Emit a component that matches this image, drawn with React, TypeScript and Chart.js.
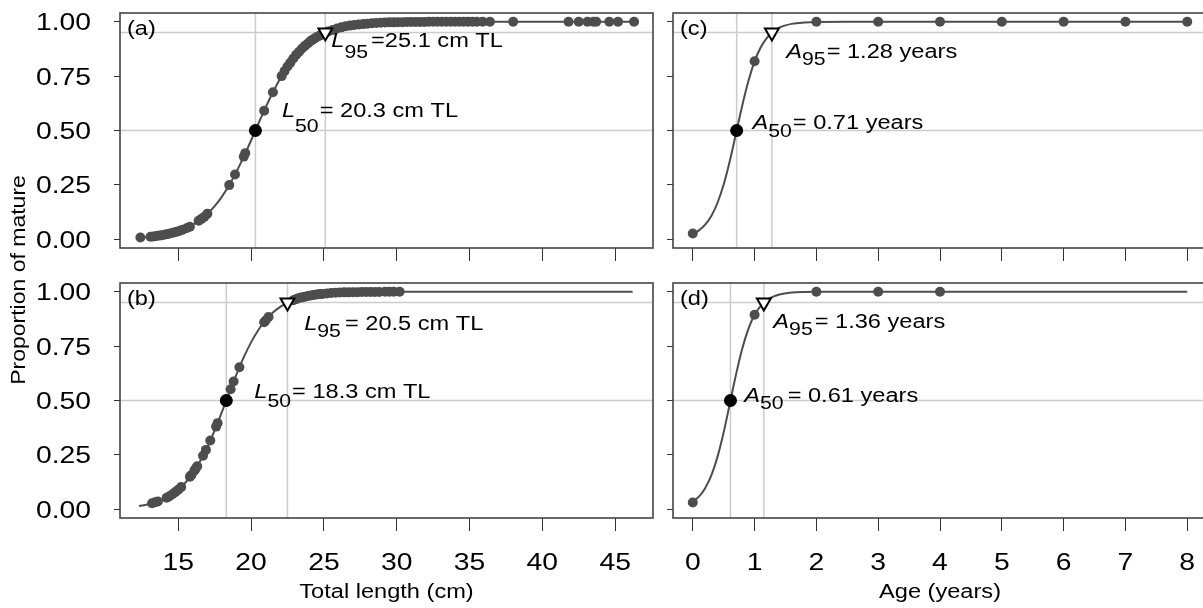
import React, { useEffect, useRef } from "react";
import { Chart, registerables } from "chart.js";

Chart.register(...registerables);

// ---------------- shared axis values ----------------
const proportionTicks = [0, 0.25, 0.5, 0.75, 1];
const proportionTickLabels = ["0.00", "0.25", "0.50", "0.75", "1.00"];
const referenceLevels = [0.5, 0.95];
const lengthTicks = [15, 20, 25, 30, 35, 40, 45];
const ageTicks = [0, 1, 2, 3, 4, 5, 6, 7, 8];
const panelLabels = ["(a)", "(b)", "(c)", "(d)"];
const yTitle = "Proportion of mature";
const lengthTitle = "Total length (cm)";
const ageTitle = "Age (years)";

// ---------------- (a) total length, panel 1 ----------------
const aCurveX = [12.3, 13, 14, 15, 16, 16.5, 17, 17.5, 18, 18.5, 19, 19.5, 20, 20.5, 21, 21.5, 22, 22.5, 23, 23.5, 24, 24.5, 25, 25.5, 26, 27, 28, 29, 30, 32, 35, 40, 46.3];
const aCurveY = [0.007, 0.011, 0.021, 0.037, 0.067, 0.089, 0.117, 0.152, 0.196, 0.249, 0.311, 0.38, 0.454, 0.531, 0.606, 0.676, 0.739, 0.794, 0.84, 0.877, 0.906, 0.929, 0.947, 0.96, 0.971, 0.984, 0.991, 0.995, 0.997, 0.999, 1, 1, 1];
const aPointX = [12.4, 13.1, 13.3, 13.5, 13.7, 13.9, 14.1, 14.3, 14.5, 14.7, 14.9, 15.1, 15.3, 15.6, 15.8, 16.4, 16.6, 16.8, 17.0, 18.5, 18.9, 19.5, 19.6, 20.9, 21.5, 22.1, 22.3, 22.5, 22.7, 22.9, 23.1, 23.3, 23.5, 23.7, 23.9, 24.1, 24.3, 24.5, 24.7, 24.9, 25.3, 25.6, 25.9, 26.2, 26.5, 26.8, 27.1, 27.4, 27.7, 28.0, 28.3, 28.6, 28.9, 29.2, 29.5, 29.8, 30.1, 30.4, 30.7, 31.0, 31.3, 31.6, 31.9, 32.2, 32.5, 32.8, 33.1, 33.4, 33.7, 34.0, 34.3, 34.6, 34.9, 35.2, 35.5, 35.9, 36.4, 38.0, 41.8, 42.5, 43.1, 43.5, 43.7, 44.6, 45.2, 46.3];
const aPointY = [0.008, 0.012, 0.013, 0.015, 0.017, 0.019, 0.022, 0.024, 0.028, 0.031, 0.035, 0.039, 0.044, 0.052, 0.058, 0.085, 0.094, 0.104, 0.117, 0.249, 0.298, 0.38, 0.396, 0.591, 0.676, 0.75, 0.773, 0.794, 0.812, 0.831, 0.848, 0.862, 0.877, 0.889, 0.9, 0.912, 0.92, 0.929, 0.936, 0.943, 0.955, 0.962, 0.969, 0.974, 0.979, 0.982, 0.985, 0.987, 0.989, 0.991, 0.993, 0.994, 0.995, 0.996, 0.997, 0.997, 0.998, 0.998, 0.999, 0.999, 0.999, 0.999, 0.999, 1, 1, 1, 1, 1, 1, 1, 1, 1, 1, 1, 1, 1, 1, 1, 1, 1, 1, 1, 1, 1, 1, 1];
const aL50 = 20.3;
const aL95 = 25.1;

// ---------------- (b) total length, panel 2 ----------------
const bCurveX = [12.3, 13, 14, 15, 15.5, 16, 16.5, 17, 17.5, 18, 18.5, 19, 19.5, 20, 20.5, 21, 21.5, 22, 22.5, 23, 24, 25, 26, 27, 28, 30, 35, 46.2];
const bCurveY = [0.015, 0.024, 0.047, 0.09, 0.123, 0.166, 0.221, 0.287, 0.363, 0.448, 0.535, 0.62, 0.699, 0.767, 0.824, 0.869, 0.904, 0.93, 0.95, 0.964, 0.982, 0.991, 0.996, 0.998, 0.999, 1, 1, 1];
const bPointX = [13.2, 13.4, 13.6, 14.2, 14.4, 14.6, 14.8, 15.0, 15.2, 15.8, 15.9, 16.1, 16.2, 16.3, 16.7, 16.9, 17.2, 17.6, 17.7, 18.6, 18.8, 19.2, 20.9, 21.0, 21.2, 22.9, 23.1, 23.3, 23.5, 23.7, 23.9, 24.1, 24.3, 24.5, 24.7, 24.9, 25.2, 25.5, 25.8, 26.1, 26.4, 26.7, 27.0, 27.3, 27.6, 27.9, 28.2, 28.5, 28.8, 29.2, 29.5, 29.8, 30.2];
const bPointY = [0.028, 0.032, 0.036, 0.053, 0.06, 0.069, 0.079, 0.09, 0.102, 0.15, 0.157, 0.177, 0.187, 0.198, 0.246, 0.273, 0.316, 0.38, 0.396, 0.552, 0.587, 0.653, 0.86, 0.868, 0.884, 0.961, 0.966, 0.971, 0.974, 0.977, 0.98, 0.983, 0.985, 0.987, 0.989, 0.99, 0.992, 0.994, 0.995, 0.996, 0.997, 0.997, 0.998, 0.998, 0.999, 0.999, 0.999, 0.999, 0.999, 1, 1, 1, 1];
const bL50 = 18.3;
const bL95 = 22.5;

// ---------------- (c) age, panel 3 ----------------
const cCurveX = [0, 0.1, 0.2, 0.3, 0.4, 0.5, 0.6, 0.7, 0.8, 0.9, 1.0, 1.1, 1.2, 1.3, 1.4, 1.5, 1.6, 1.8, 2.0, 2.5, 3, 4, 5, 6, 7, 8];
const cCurveY = [0.025, 0.041, 0.067, 0.107, 0.168, 0.252, 0.361, 0.487, 0.614, 0.727, 0.818, 0.883, 0.926, 0.955, 0.973, 0.983, 0.99, 0.996, 0.999, 1, 1, 1, 1, 1, 1, 1];
const cPointX = [0, 1, 2, 3, 4, 5, 6, 7, 8];
const cPointY = [0.027, 0.818, 1, 1, 1, 1, 1, 1, 1];
const cA50 = 0.71;
const cA95 = 1.28;

// ---------------- (d) age, panel 4 ----------------
const dCurveX = [0, 0.1, 0.2, 0.3, 0.4, 0.5, 0.6, 0.7, 0.8, 0.9, 1.0, 1.1, 1.2, 1.3, 1.4, 1.6, 1.8, 2.0, 3, 4, 8];
const dCurveY = [0.035, 0.058, 0.097, 0.156, 0.241, 0.354, 0.486, 0.62, 0.738, 0.829, 0.894, 0.935, 0.962, 0.977, 0.987, 0.996, 0.999, 1, 1, 1, 1];
const dPointX = [0, 1, 2, 3, 4];
const dPointY = [0.031, 0.894, 1, 1, 1];
const dA50 = 0.61;
const dA95 = 1.15;

// annotation texts
const annLetters = ["L", "L", "A", "A"];
const annSub50 = "50";
const annSub95 = "95";
const annRest50 = ["= 20.3 cm TL", "= 18.3 cm TL", "= 0.71 years", "= 0.61 years"];
const annRest95 = ["=25.1 cm TL", "= 20.5 cm TL", "= 1.28 years", "= 1.36 years"];

// ---------------- styling ----------------
const FONT = '"Liberation Sans", Arial, Helvetica, sans-serif';
const SX = 1.18; // horizontal stretch of the original figure
const CW = 1220;
const CH = 608;
const GREY = "#4d4d4d";
const GRID = "#cccccc";
const TICK = "#333333";
const BOX = "#444444";

function drawText(ctx: CanvasRenderingContext2D, str: string, x: number, y: number, size: number, align: CanvasTextAlign = "left", italic = false, sx = SX) {
  ctx.save();
  ctx.font = `${italic ? "italic " : ""}${size}px ${FONT}`;
  ctx.textAlign = align;
  ctx.textBaseline = "alphabetic";
  ctx.fillStyle = "#000";
  ctx.translate(x, y);
  ctx.scale(sx, 1);
  ctx.fillText(str, 0, 0);
  const w = ctx.measureText(str).width * sx;
  ctx.restore();
  return w;
}

type Ann = { letter: string; sub: string; rest: string; vx: number; vy: number; dx: number; dy: number; subDy: number; gap: number };

function zip(xs: number[], ys: number[]) {
  return xs.map((x, i) => ({ x, y: ys[i] }));
}

function makePanel(p: any) {
  const decor = {
    id: "decor",
    beforeDatasetsDraw(chart: any) {
      const { ctx, chartArea: a } = chart;
      const xs = chart.scales.x;
      const ys = chart.scales.y;
      ctx.save();
      ctx.beginPath();
      ctx.rect(a.left, a.top, a.right - a.left, a.bottom - a.top);
      ctx.clip();
      ctx.strokeStyle = GRID;
      ctx.lineWidth = 1.5;
      for (const v of [p.m50, p.m95]) {
        const px = xs.getPixelForValue(v);
        ctx.beginPath();
        ctx.moveTo(px, a.top);
        ctx.lineTo(px, a.bottom);
        ctx.stroke();
      }
      for (const v of referenceLevels) {
        const py = ys.getPixelForValue(v);
        ctx.beginPath();
        ctx.moveTo(a.left, py);
        ctx.lineTo(a.right, py);
        ctx.stroke();
      }
      ctx.restore();
    },
    afterDatasetsDraw(chart: any) {
      const { ctx, chartArea: a } = chart;
      const xs = chart.scales.x;
      const ys = chart.scales.y;
      ctx.save();
      ctx.strokeStyle = BOX;
      ctx.lineWidth = 1.6;
      ctx.strokeRect(a.left, a.top, a.right - a.left, a.bottom - a.top);
      ctx.restore();

      drawText(ctx, p.label, a.left + 7, a.top + 21.5, 20);

      for (const ann of p.anns as Ann[]) {
        const x0 = xs.getPixelForValue(ann.vx) + ann.dx;
        const y0 = ys.getPixelForValue(ann.vy) + ann.dy;
        const w1 = drawText(ctx, ann.letter, x0, y0, 20, "left", true);
        const w2 = drawText(ctx, ann.sub, x0 + w1, y0 + ann.subDy, 18);
        drawText(ctx, ann.rest, x0 + w1 + w2 + ann.gap, y0, 20);
      }

      if (p.showYLabels) {
        proportionTicks.forEach((v, i) => {
          drawText(ctx, proportionTickLabels[i], a.left - 29, ys.getPixelForValue(v) + 8.5, 24, "right");
        });
      }
      if (p.showXLabels) {
        p.xTicks.forEach((v: number) => {
          drawText(ctx, String(v), xs.getPixelForValue(v), a.bottom + 52, 24, "center");
        });
        drawText(ctx, p.xTitle, (a.left + a.right) / 2, a.bottom + 80, 20, "center");
      }
      if (p.showYTitle) {
        ctx.save();
        ctx.translate(25, 280);
        ctx.rotate(-Math.PI / 2);
        ctx.scale(1.15, 1);
        ctx.font = `20px ${FONT}`;
        ctx.textAlign = "center";
        ctx.textBaseline = "alphabetic";
        ctx.fillStyle = "#000";
        ctx.fillText(yTitle, 0, 0);
        ctx.restore();
      }
    },
  };

  return {
    type: "scatter",
    data: {
      datasets: [
        {
          data: [{ x: p.m95, y: referenceLevels[1] }],
          pointStyle: "triangle",
          pointRotation: 180,
          pointRadius: 8,
          pointBackgroundColor: "#ffffff",
          pointBorderColor: "#000000",
          pointBorderWidth: 2,
          order: 1,
        },
        {
          data: [{ x: p.m50, y: referenceLevels[0] }],
          pointRadius: 6.5,
          pointBackgroundColor: "#000000",
          pointBorderColor: "#000000",
          pointBorderWidth: 0,
          order: 2,
        },
        {
          data: zip(p.pointX, p.pointY),
          pointRadius: 5,
          pointBackgroundColor: GREY,
          pointBorderColor: GREY,
          pointBorderWidth: 0,
          order: 3,
        },
        {
          data: zip(p.curveX, p.curveY),
          showLine: true,
          pointRadius: 0,
          borderColor: GREY,
          borderWidth: 2,
          cubicInterpolationMode: "monotone",
          fill: false,
          order: 4,
        },
      ],
    },
    options: {
      animation: false,
      responsive: false,
      devicePixelRatio: 1,
      events: [],
      layout: { autoPadding: false, padding: { left: 0, top: p.area.top, right: CW - p.area.right, bottom: 0 } },
      plugins: { legend: { display: false }, tooltip: { enabled: false } },
      scales: {
        x: {
          type: "linear",
          position: "bottom",
          min: p.xMin,
          max: p.xMax,
          afterBuildTicks: (s: any) => {
            s.ticks = p.xTicks.map((v: number) => ({ value: v }));
          },
          afterFit: (s: any) => {
            s.height = CH - p.area.bottom;
          },
          grid: { display: true, drawOnChartArea: false, drawTicks: true, tickLength: 13, color: TICK, lineWidth: 1 },
          border: { display: false },
          ticks: { display: false },
        },
        y: {
          type: "linear",
          position: "left",
          min: -0.04,
          max: 1.04,
          afterBuildTicks: (s: any) => {
            s.ticks = proportionTicks.map((v) => ({ value: v }));
          },
          afterFit: (s: any) => {
            s.width = p.area.left;
          },
          grid: { display: true, drawOnChartArea: false, drawTicks: true, tickLength: 6, color: TICK, lineWidth: 1 },
          border: { display: false },
          ticks: { display: false },
        },
      },
    },
    plugins: [decor],
  };
}

const panels = [
  {
    label: panelLabels[0],
    area: { left: 120, top: 13, right: 653, bottom: 248 },
    xMin: 11.0, xMax: 47.6, xTicks: lengthTicks,
    showXLabels: false, showYLabels: true, showYTitle: true, xTitle: lengthTitle,
    curveX: aCurveX, curveY: aCurveY, pointX: aPointX, pointY: aPointY,
    m50: aL50, m95: aL95,
    anns: [
      { letter: annLetters[0], sub: annSub95, rest: annRest95[0], vx: aL95, vy: 0.95, dx: 6, dy: 14.5, subDy: 11, gap: 3 },
      { letter: annLetters[0], sub: annSub50, rest: annRest50[0], vx: aL50, vy: 0.5, dx: 26.5, dy: -13.5, subDy: 15, gap: 1 },
    ],
  },
  {
    label: panelLabels[1],
    area: { left: 120, top: 283, right: 653, bottom: 518 },
    xMin: 11.0, xMax: 47.6, xTicks: lengthTicks,
    showXLabels: true, showYLabels: true, showYTitle: false, xTitle: lengthTitle,
    curveX: bCurveX, curveY: bCurveY, pointX: bPointX, pointY: bPointY,
    m50: bL50, m95: bL95,
    anns: [
      { letter: annLetters[1], sub: annSub95, rest: annRest95[1], vx: bL95, vy: 0.95, dx: 16.7, dy: 27.4, subDy: 7, gap: 4 },
      { letter: annLetters[1], sub: annSub50, rest: annRest50[1], vx: bL50, vy: 0.5, dx: 28, dy: -2.5, subDy: 9, gap: 1 },
    ],
  },
  {
    label: panelLabels[2],
    area: { left: 673, top: 13, right: 1207, bottom: 248 },
    xMin: -0.32, xMax: 8.32, xTicks: ageTicks,
    showXLabels: false, showYLabels: false, showYTitle: false, xTitle: ageTitle,
    curveX: cCurveX, curveY: cCurveY, pointX: cPointX, pointY: cPointY,
    m50: cA50, m95: cA95,
    anns: [
      { letter: annLetters[2], sub: annSub95, rest: annRest95[2], vx: cA95, vy: 0.95, dx: 14.4, dy: 25.7, subDy: 7, gap: 1 },
      { letter: annLetters[2], sub: annSub50, rest: annRest50[2], vx: cA50, vy: 0.5, dx: 15.8, dy: -2, subDy: 8, gap: 1 },
    ],
  },
  {
    label: panelLabels[3],
    area: { left: 673, top: 283, right: 1207, bottom: 518 },
    xMin: -0.32, xMax: 8.32, xTicks: ageTicks,
    showXLabels: true, showYLabels: false, showYTitle: false, xTitle: ageTitle,
    curveX: dCurveX, curveY: dCurveY, pointX: dPointX, pointY: dPointY,
    m50: dA50, m95: dA95,
    anns: [
      { letter: annLetters[3], sub: annSub95, rest: annRest95[3], vx: dA95, vy: 0.95, dx: 9.5, dy: 25.7, subDy: 7, gap: 2 },
      { letter: annLetters[3], sub: annSub50, rest: annRest50[3], vx: dA50, vy: 0.5, dx: 13.8, dy: 1, subDy: 7, gap: 4 },
    ],
  },
];

export default function App() {
  const refs = [useRef<HTMLCanvasElement>(null), useRef<HTMLCanvasElement>(null), useRef<HTMLCanvasElement>(null), useRef<HTMLCanvasElement>(null)];

  useEffect(() => {
    const charts = panels.map((p, i) => new Chart(refs[i].current as HTMLCanvasElement, makePanel(p) as any));
    return () => charts.forEach((c) => c.destroy());
  }, []);

  return (
    <div style={{ position: "fixed", left: 0, top: 0, width: 1203, height: 608, overflow: "hidden", background: "#ffffff" }}>
      {refs.map((r, i) => (
        <canvas key={i} ref={r} width={CW} height={CH} style={{ position: "absolute", left: 0, top: 0, width: CW, height: CH }} />
      ))}
    </div>
  );
}
